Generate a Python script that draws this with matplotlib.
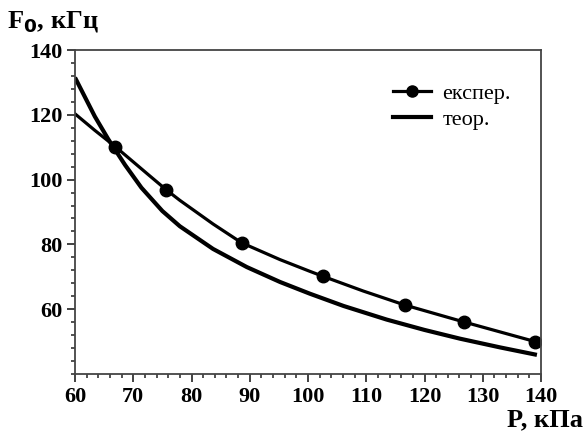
import matplotlib.pyplot as plt
from matplotlib.ticker import MultipleLocator

# experimental points (markers)
p_exp = [66.9, 75.7, 88.6, 102.5, 116.6, 126.7, 139.0]
f_exp = [110.2, 96.8, 80.5, 70.2, 61.3, 56.1, 50.0]

p_exp_line = [60, 63.4, 66.9, 72.6, 75.7, 78.0, 83.7, 88.6, 95.2, 100.3, 102.5, 109.5, 116.6, 126.7, 139.0]
f_exp_line = [120.3, 115.2, 110.2, 101.5, 96.8, 93.6, 86.3, 80.5, 75.3, 71.7, 70.2, 65.6, 61.3, 56.1, 50.0]

# theoretical curve
p_teor = [60, 63.4, 65.7, 68.6, 71.4, 75.0, 78.0, 83.7, 89.5, 95.2, 100.3, 106.1, 113.5, 120.0, 126.1, 133.0, 139.3]
f_teor = [131.5, 119.5, 112.5, 104.5, 97.5, 90.3, 85.6, 78.6, 73.0, 68.4, 64.8, 61.0, 56.8, 53.6, 50.9, 48.2, 45.9]

plt.rcParams['font.family'] = ['Liberation Serif', 'DejaVu Serif']

fig = plt.figure(figsize=(5.84, 4.37), dpi=100)
ax = fig.add_axes([75/584, 1 - 374/437, 466/584, 324/437])

ax.plot(p_teor, f_teor, color='black', lw=3.0, solid_capstyle='butt', solid_joinstyle='round')
ax.plot(p_exp_line, f_exp_line, color='black', lw=2.3, solid_joinstyle='round')
ax.plot(p_exp, f_exp, 'o', color='black', ms=9)
# legend proxies
h_exp, = ax.plot([], [], color='black', lw=2.3, marker='o', ms=8)
h_teor, = ax.plot([], [], color='black', lw=3.0)

ax.set_xlim(60, 140)
ax.set_ylim(40, 140)
ax.xaxis.set_major_locator(MultipleLocator(10))
ax.xaxis.set_minor_locator(MultipleLocator(2))
ax.yaxis.set_minor_locator(MultipleLocator(4))
ax.set_yticks([60, 80, 100, 120, 140])

for s in ax.spines.values():
    s.set_color('#444444')
    s.set_linewidth(1.3)

ax.tick_params(which='major', direction='out', length=6, width=1.3, color='#333333')
ax.tick_params(which='minor', direction='out', length=3, width=1.2, color='#333333')
ax.tick_params(labelsize=16, pad=3)
for lbl in ax.get_xticklabels() + ax.get_yticklabels():
    lbl.set_fontweight('bold')

ax.legend([h_exp, h_teor], ['експер.', 'теор.'], loc='upper left',
          bbox_to_anchor=(0.64, 0.96), frameon=False, fontsize=16,
          handlelength=1.7, handletextpad=0.5, labelspacing=0.25)

fig.text(7/584, 1 - 22/437, 'F$_\\mathbf{0}$, кГц', fontsize=19, fontweight='bold',
         va='center', ha='left')
fig.text(583/584, 1 - 420/437, 'P, кПа', fontsize=19, fontweight='bold',
         va='center', ha='right')

fig.savefig('out.png', dpi=100)
